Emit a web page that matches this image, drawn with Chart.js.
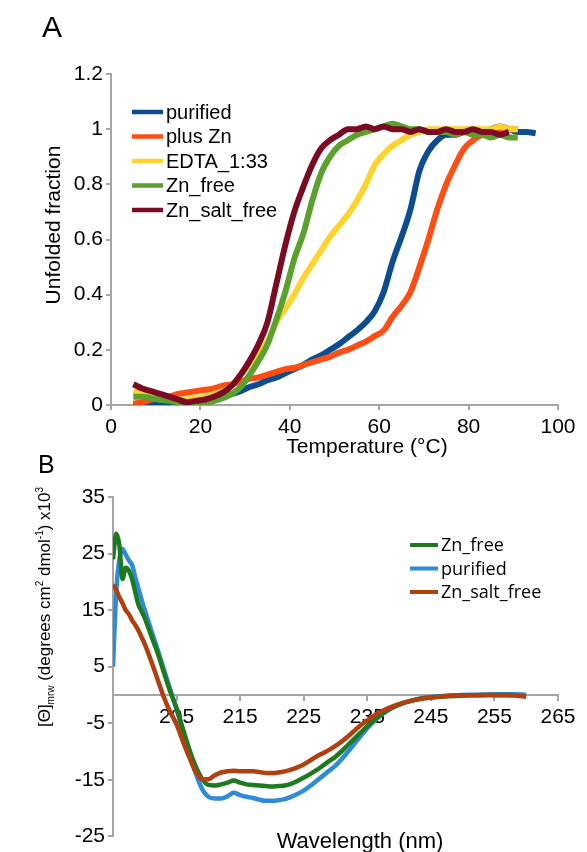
<!DOCTYPE html>
<html>
<head>
<meta charset="utf-8">
<script src="https://cdn.jsdelivr.net/npm/chart.js@4.4.0/dist/chart.umd.min.js"></script>
<style>
html, body { margin: 0; padding: 0; background: #fff; }
#wrap { position: relative; width: 587px; height: 852px; overflow: hidden; }
#chartA { position: absolute; left: 0; top: 0; }
#chartB { position: absolute; left: 0; top: 440px; }
</style>
</head>
<body>
<div id="wrap">
<canvas id="chartA" width="587" height="460"></canvas>
<canvas id="chartB" width="587" height="412"></canvas>
</div>
<script>
// ---- panel A : thermal unfolding ----
var tempA = [5, 7, 9, 11, 13, 15, 17, 19, 21, 23, 25, 27, 29, 31, 33, 35, 37, 39, 41, 43, 45, 47, 49,
	51, 53, 55, 57, 59, 61, 63, 65, 67, 69, 71, 73, 75, 77, 79, 81, 83, 85, 87, 89, 91, 93, 95];
var purifiedA = [0.0, 0.005, 0.01, 0.01, 0.01, 0.01, 0.015, 0.02, 0.025, 0.03, 0.035, 0.04, 0.05, 0.065, 0.075,
	0.09, 0.10, 0.115, 0.13, 0.145, 0.165, 0.18, 0.20, 0.22, 0.245, 0.27, 0.30, 0.34, 0.41, 0.52, 0.61, 0.71,
	0.85, 0.92, 0.96, 0.98, 0.98, 0.99, 1.0, 0.99, 1.0, 1.01, 1.0, 0.99, 0.99, 0.985];
var plusZnA = [0.005, 0.01, 0.02, 0.025, 0.03, 0.04, 0.045, 0.05, 0.055, 0.06, 0.07, 0.075, 0.085, 0.095, 0.10,
	0.11, 0.12, 0.13, 0.135, 0.145, 0.155, 0.165, 0.175, 0.19, 0.20, 0.215, 0.23, 0.25, 0.27, 0.32, 0.36, 0.41,
	0.50, 0.60, 0.71, 0.80, 0.87, 0.93, 0.96, 0.98, 0.99, 1.0, 1.0, 1.0, null, null];
var edtaA = [0.05, 0.04, 0.03, 0.02, 0.02, 0.02, 0.02, 0.025, 0.03, 0.04, 0.05, 0.07, 0.11, 0.15, 0.19,
	0.23, 0.30, 0.35, 0.40, 0.46, 0.51, 0.56, 0.61, 0.65, 0.69, 0.74, 0.80, 0.87, 0.91, 0.94, 0.96, 0.98,
	0.99, 1.0, 1.0, 1.0, 1.0, 1.0, 1.0, 1.0, 1.0, 1.01, 1.0, 1.0, null, null];
var znFreeA = [0.03, 0.03, 0.025, 0.02, 0.015, 0.01, 0.005, 0.0, 0.005, 0.015, 0.025, 0.04, 0.065, 0.11, 0.16,
	0.22, 0.31, 0.41, 0.53, 0.62, 0.74, 0.84, 0.90, 0.94, 0.96, 0.98, 0.99, 1.0, 1.01, 1.02, 1.01, 1.0,
	1.0, 0.99, 0.99, 0.99, 0.98, 0.99, 0.98, 0.98, 0.97, 0.98, 0.97, 0.97, null, null];
var znSaltFreeA = [0.075, 0.06, 0.05, 0.04, 0.03, 0.02, 0.01, 0.015, 0.02, 0.03, 0.045, 0.07, 0.11, 0.16, 0.22,
	0.30, 0.44, 0.58, 0.70, 0.79, 0.87, 0.93, 0.96, 0.98, 1.0, 1.0, 1.01, 1.0, 1.01, 1.0, 1.0, 0.99,
	1.0, 0.99, 0.99, 1.0, 0.99, 0.99, 1.0, 0.99, 0.99, 0.98, 0.99, null, null, null];
var xTicksA = [0, 20, 40, 60, 80, 100];
var yTicksA = [0, 0.2, 0.4, 0.6, 0.8, 1, 1.2];

// ---- panel B : CD spectra ----
var waveB = [195, 195.5, 196, 196.5, 197, 197.5, 198, 198.5, 199, 199.5,
	200, 201, 202, 203, 204, 205, 206, 207, 208, 209, 210, 211, 212, 213, 214, 215, 216, 217, 218, 219,
	220, 221, 222, 223, 224, 225, 226, 227, 228, 229, 230, 231, 232, 233, 234, 235, 236, 237, 238, 239, 240,
	242, 244, 246, 248, 250, 252, 254, 256, 258, 260];
var znFreeB = [24, 28.5, 26.5, 20.5, 22.5, 22.0, 20.5, 18.2, 16.0, 14.8,
	13.6, 10.5, 7.5, 4.0, 0.6, -2.3, -6.0, -9.6, -12.6, -14.8, -15.9, -16.0, -15.8, -15.5, -15.1, -15.5, -15.8, -15.9, -16.0, -16.1,
	-16.2, -16.1, -16.0, -15.7, -15.2, -14.6, -14.0, -13.3, -12.5, -11.7, -10.9, -9.9, -8.8, -7.7, -6.6, -5.5, -4.5, -3.6, -2.8, -2.2, -1.7,
	-1.0, -0.55, -0.3, -0.2, -0.1, -0.05, 0.0, 0.0, 0.0, null];
var purifiedB = [5.0, 18, 24, 25.8, 24.8, 23.8, 23.0, 20.8, 18.8, 16.8,
	15.0, 11.5, 8.1, 4.5, 1.0, -2.6, -6.3, -10.3, -13.8, -16.6, -18.0, -18.3, -18.3, -17.9, -17.3, -17.7, -18.0, -18.2, -18.5, -18.7,
	-18.7, -18.6, -18.4, -18.0, -17.5, -16.9, -16.1, -15.2, -14.3, -13.4, -12.5, -11.3, -10.0, -8.6, -7.2, -5.9, -4.7, -3.7, -2.9, -2.2, -1.7,
	-1.0, -0.5, -0.25, -0.1, 0.0, 0.05, 0.1, 0.15, 0.15, 0.05];
var znSaltFreeB = [19.5, 18.6, 17.3, 16.2, 15.0, 14.3, 13.2, 12.4, 11.4, 10.2,
	9.0, 6.0, 2.8, -0.4, -3.0, -5.2, -8.2, -11.0, -13.5, -14.9, -14.9, -14.2, -13.7, -13.5, -13.4, -13.5, -13.5, -13.5, -13.6, -13.8,
	-13.8, -13.7, -13.5, -13.2, -12.8, -12.3, -11.6, -10.9, -10.3, -9.7, -9.0, -8.2, -7.3, -6.3, -5.3, -4.5, -3.7, -3.0, -2.5, -2.0, -1.6,
	-1.0, -0.6, -0.35, -0.2, -0.1, -0.05, 0.0, -0.05, -0.1, -0.3];
var xTicksB = [205, 215, 225, 235, 245, 255, 265];
var yTicksB = [-25, -15, -5, 5, 15, 25, 35];

var axisGrey = '#a6a6a6';
var fam = '"Liberation Sans", Arial, sans-serif';
Chart.defaults.font.family = fam;
Chart.defaults.color = '#000';

function pts(xs, ys) {
	return xs.map(function(x, i) { return { x: x, y: ys[i] }; });
}

function line(label, xs, ys, color, width, order) {
	return {
		label: label,
		data: pts(xs, ys),
		borderColor: color,
		borderWidth: width,
		pointRadius: 0,
		cubicInterpolationMode: 'monotone',
		order: order
	};
}

function fixedTicks(arr) {
	return function(ax) {
		ax.ticks = arr.map(function(v) { return { value: v }; });
	};
}

// draws panel letters, axis titles (with sub/superscripts) and the legend
var decor = {
	id: 'decor',
	afterDraw: function(chart, args, opts) {
		var ctx = chart.ctx;
		(opts.texts || []).forEach(function(t) {
			ctx.save();
			ctx.translate(t.x, t.y);
			if (t.rotate) ctx.rotate(t.rotate);
			ctx.fillStyle = '#000';
			ctx.textBaseline = 'alphabetic';
			ctx.textAlign = 'left';
			var parts = t.parts || [{ text: t.text, size: t.size }];
			var total = 0;
			parts.forEach(function(p) {
				ctx.font = (p.size || t.size) + 'px ' + (t.family || fam);
				p.w = ctx.measureText(p.text).width;
				total += p.w;
			});
			var x = t.align == 'center' ? -total / 2 : 0;
			parts.forEach(function(p) {
				ctx.font = (p.size || t.size) + 'px ' + (t.family || fam);
				ctx.fillText(p.text, x, p.dy || 0);
				x += p.w;
			});
			ctx.restore();
		});
		var lg = opts.legend;
		if (lg) {
			ctx.save();
			lg.order.forEach(function(idx, i) {
				var ds = chart.data.datasets[idx];
				var y = lg.y + i * lg.dy;
				ctx.strokeStyle = ds.borderColor;
				ctx.lineWidth = lg.lineWidth;
				ctx.beginPath();
				ctx.moveTo(lg.x, y);
				ctx.lineTo(lg.x + lg.len, y);
				ctx.stroke();
				ctx.fillStyle = '#000';
				ctx.font = lg.font;
				ctx.textBaseline = 'middle';
				ctx.fillText(ds.label, lg.x + lg.len + lg.gap, y + 1);
			});
			ctx.restore();
		}
	}
};

function axisStyle() {
	return {
		grid: { drawOnChartArea: false, drawTicks: true, tickLength: 5, color: axisGrey, lineWidth: 2 },
		border: { color: axisGrey, width: 2 }
	};
}

var xA = Object.assign(axisStyle(), {
	type: 'linear', min: 0, max: 100,
	afterBuildTicks: fixedTicks(xTicksA),
	afterFit: function(ax) { ax.height = 55; },
	ticks: { font: { size: 21 }, padding: 5, maxRotation: 0, autoSkip: false,
		callback: function(v) { return String(v); } }
});
var yA = Object.assign(axisStyle(), {
	type: 'linear', min: 0, max: 1.2,
	afterBuildTicks: fixedTicks(yTicksA),
	afterFit: function(ax) { ax.width = 111; },
	ticks: { font: { size: 21 }, padding: 3, autoSkip: false,
		callback: function(v) { return String(v); } }
});

new Chart(document.getElementById('chartA'), {
	type: 'line',
	data: {
		datasets: [
			line('purified', tempA, purifiedA, '#0c4c90', 6, 5),
			line('plus Zn', tempA, plusZnA, '#ff4e14', 6, 4),
			line('EDTA_1:33', tempA, edtaA, '#ffd22e', 6, 3),
			line('Zn_free', tempA, znFreeA, '#5ba12d', 6, 2),
			line('Zn_salt_free', tempA, znSaltFreeA, '#7a0b22', 6, 1)
		]
	},
	options: {
		responsive: false,
		animation: false,
		layout: { padding: { left: 0, top: 74, right: 29, bottom: 0 } },
		scales: { x: xA, y: yA },
		plugins: {
			legend: { display: false },
			tooltip: { enabled: false },
			decor: {
				texts: [
					{ text: 'A', x: 42, y: 37, size: 30 },
					{ text: 'Unfolded fraction', x: 60, y: 225, size: 21, rotate: -Math.PI / 2, align: 'center' },
					{ text: 'Temperature (\u00b0C)', x: 367, y: 453, size: 21, align: 'center' }
				],
				legend: { x: 132, y: 112, dy: 24.5, len: 31, gap: 3, lineWidth: 4.5,
					font: '20px ' + fam, order: [0, 1, 2, 3, 4] }
			}
		}
	},
	plugins: [decor]
});

var xB = Object.assign(axisStyle(), {
	type: 'linear', min: 195, max: 265,
	position: { y: 0 },
	afterBuildTicks: fixedTicks(xTicksB),
	afterFit: function(ax) { ax.height = 11; },
	ticks: { font: { size: 21 }, padding: 5, maxRotation: 0, autoSkip: false,
		callback: function(v) { return String(v); } }
});
var yB = Object.assign(axisStyle(), {
	type: 'linear', min: -25, max: 35,
	afterBuildTicks: fixedTicks(yTicksB),
	afterFit: function(ax) { ax.width = 113; },
	ticks: { font: { size: 21 }, padding: 3, autoSkip: false,
		callback: function(v) { return String(v); } }
});

new Chart(document.getElementById('chartB'), {
	type: 'line',
	data: {
		datasets: [
			line('Zn_free', waveB, znFreeB, '#1d7a1f', 4.5, 2),
			line('purified', waveB, purifiedB, '#2d8bd8', 4.5, 3),
			line('Zn_salt_free', waveB, znSaltFreeB, '#b23f10', 4.5, 1)
		]
	},
	options: {
		responsive: false,
		animation: false,
		layout: { padding: { left: 0, top: 57, right: 29, bottom: 0 } },
		scales: { x: xB, y: yB },
		plugins: {
			legend: { display: false },
			tooltip: { enabled: false },
			decor: {
				texts: [
					{ text: 'B', x: 38, y: 33, size: 25 },
					{ x: 50, y: 167, size: 17, rotate: -Math.PI / 2, align: 'center',
						parts: [
							{ text: '[\u0398]' },
							{ text: 'mrw', size: 10, dy: 4 },
							{ text: ' (degrees cm' },
							{ text: '2', size: 10, dy: -7 },
							{ text: ' dmol' },
							{ text: '-1', size: 10, dy: -7 },
							{ text: ') x10' },
							{ text: '3', size: 10, dy: -7 }
						] },
					{ text: 'Wavelength (nm)', x: 360, y: 408, size: 22, align: 'center' }
				],
				legend: { x: 410, y: 105, dy: 23.5, len: 28, gap: 3, lineWidth: 4,
					font: '18px "Open Sans", sans-serif', order: [0, 1, 2] }
			}
		}
	},
	plugins: [decor]
});
</script>
</body>
</html>
